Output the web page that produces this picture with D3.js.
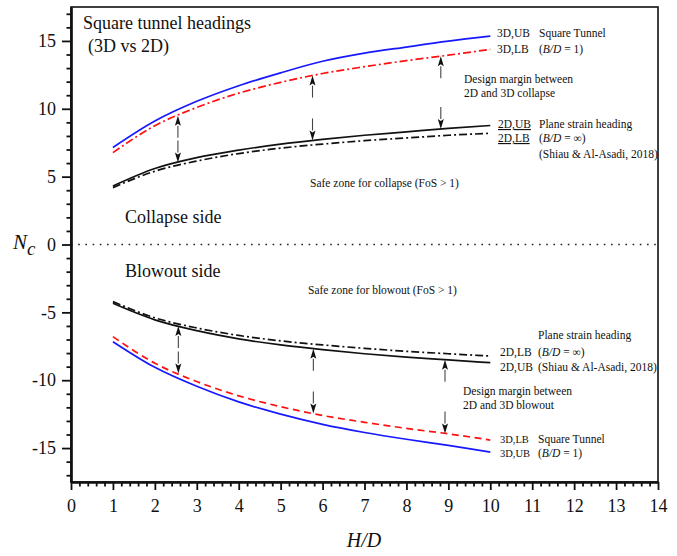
<!DOCTYPE html>
<html><head><meta charset="utf-8">
<script src="https://cdn.jsdelivr.net/npm/d3@7"></script>
<style>
body{margin:0;background:#fff;}
text{font-family:"Liberation Serif","Times New Roman",serif;fill:#111;}
</style></head>
<body><svg id="c" width="677" height="556"></svg>
<script>
// ---------- data ----------
const hd = [1,2,3,4,5,6,7,8,9,10];
const collapse3DUB = [7.15, 9.1, 10.55, 11.7, 12.65, 13.5, 14.1, 14.55, 14.98, 15.35];
const collapse3DLB = [6.77, 8.75, 10.1, 11.15, 11.95, 12.6, 13.1, 13.55, 13.95, 14.38];
const collapse2DUB = [4.31, 5.6, 6.4, 6.95, 7.4, 7.75, 8.05, 8.3, 8.55, 8.77];
const collapse2DLB = [4.19, 5.4, 6.15, 6.7, 7.1, 7.4, 7.65, 7.85, 8.05, 8.19];
const blowout2DLB = [-4.21, -5.4, -6.15, -6.7, -7.1, -7.4, -7.65, -7.87, -8.05, -8.22];
const blowout2DUB = [-4.33, -5.55, -6.35, -6.95, -7.4, -7.75, -8.05, -8.3, -8.5, -8.71];
const blowout3DLB = [-6.79, -8.75, -10.1, -11.15, -11.95, -12.6, -13.1, -13.55, -13.95, -14.41];
const blowout3DUB = [-7.16, -9.05, -10.45, -11.6, -12.5, -13.25, -13.85, -14.35, -14.8, -15.3];
const arrowXCollapse = [2.55, 5.76, 8.82];
const arrowXBlowout = [2.56, 5.78, 8.92];
const xTicks = d3.range(0, 15);
const yTicks = [-15, -10, -5, 0, 5, 10, 15];

// ---------- setup ----------
const svg = d3.select("#c");
const L = 71, R = 658, T = 7, B = 482;
const X = d3.scaleLinear([0, 14], [L, R]);
const Y = d3.scaleLinear([-17.5, 17.5], [B, T]);

// zero line
svg.append("line").attr("x1", L).attr("x2", R).attr("y1", Y(0)).attr("y2", Y(0))
  .attr("stroke", "#222").attr("stroke-width", 1.6).attr("stroke-dasharray", "1.6,5.6");

// frame
svg.append("rect").attr("x", L).attr("y", T).attr("width", R - L).attr("height", B - T)
  .attr("fill", "none").attr("stroke", "#111").attr("stroke-width", 1.6);

// axes
const xMinor = d3.range(0, 14.001, 0.2).filter(v => Math.abs(v - Math.round(v)) > 1e-6);
const yMinor = d3.range(-17, 18).filter(v => v % 5 !== 0);
function styleAxis(g){ g.selectAll("path.domain").attr("stroke","#111").attr("stroke-width",2.2);
  g.selectAll(".tick line").attr("stroke","#111").attr("stroke-width",1.8); }
svg.append("g").attr("transform", `translate(0,${B})`)
  .call(d3.axisBottom(X).tickValues(xMinor).tickSize(4.5).tickSizeOuter(0).tickFormat(""))
  .call(styleAxis);
const gx = svg.append("g").attr("transform", `translate(0,${B})`)
  .call(d3.axisBottom(X).tickValues(xTicks).tickSize(8).tickSizeOuter(0).tickFormat(d => String(d)).tickPadding(9))
  .call(styleAxis);
gx.selectAll("text").attr("font-size", 18).attr("font-family", '"Liberation Serif",serif').attr("fill", "#111");
svg.append("g").attr("transform", `translate(${L},0)`)
  .call(d3.axisLeft(Y).tickValues(yMinor).tickSize(4.5).tickSizeOuter(0).tickFormat(""))
  .call(styleAxis);
const gy = svg.append("g").attr("transform", `translate(${L},0)`)
  .call(d3.axisLeft(Y).tickValues(yTicks).tickSize(9).tickSizeOuter(0).tickFormat(d => String(d)).tickPadding(6))
  .call(styleAxis);
gy.selectAll("text").attr("font-size", 18).attr("font-family", '"Liberation Serif",serif').attr("fill", "#111");

// axis titles
svg.append("text").attr("x", 364).attr("y", 547).attr("text-anchor", "middle")
  .attr("font-size", 20).attr("font-style", "italic").text("H/D");
const nc = svg.append("text").attr("x", 13).attr("y", 249).attr("font-size", 21).attr("font-style", "italic");
nc.append("tspan").text("N");
nc.append("tspan").attr("dy", 6).attr("font-size", 19).text("c");

// ---------- curves ----------
const line = d3.line().x(d => X(d[0])).y(d => Y(d[1])).curve(d3.curveMonotoneX);
const series = [
  {v: collapse3DUB, c: "#1818ff", dash: null},
  {v: collapse3DLB, c: "#ff1010", dash: "8,3,2,3"},
  {v: collapse2DUB, c: "#111", dash: null},
  {v: collapse2DLB, c: "#111", dash: "8,3,2,3"},
  {v: blowout2DLB, c: "#111", dash: "8,3,2,3"},
  {v: blowout2DUB, c: "#111", dash: null},
  {v: blowout3DLB, c: "#ff1010", dash: "7,4.5"},
  {v: blowout3DUB, c: "#1818ff", dash: null}
];
series.forEach(s => {
  svg.append("path").datum(hd.map((x, i) => [x, s.v[i]])).attr("d", line)
    .attr("fill", "none").attr("stroke", s.c).attr("stroke-width", 1.7)
    .attr("stroke-dasharray", s.dash);
});

// ---------- arrows ----------
function valAt(arr, x){
  const i = Math.min(hd.length - 2, Math.max(0, Math.floor(x) - 1));
  const t = (x - hd[i]) / (hd[i+1] - hd[i]);
  return arr[i] + t * (arr[i+1] - arr[i]);
}
function arrow(x, tipY, dir){ // dir=-1 pointing up, +1 pointing down
  const px = X(x), len = 22, head = 10, hw = 3;
  const tail = tipY - dir * len, base = tipY - dir * head;
  svg.append("line").attr("x1", px).attr("x2", px).attr("y1", tail).attr("y2", base)
    .attr("stroke", "#444").attr("stroke-width", 1.1);
  svg.append("path").attr("d", `M${px},${tipY}L${px-hw},${base}L${px},${base+dir*2}L${px+hw},${base}Z`).attr("fill", "#111");
}
arrowXCollapse.forEach(x => {
  arrow(x, Y(valAt(collapse3DLB, x)), -1);
  arrow(x, Y(valAt(collapse2DUB, x)), 1);
});
arrowXBlowout.forEach(x => {
  arrow(x, Y(valAt(blowout2DUB, x)), -1);
  arrow(x, Y(valAt(blowout3DLB, x)), 1);
});

// ---------- text ----------
function txt(x, y, s, size, opts = {}){
  const t = svg.append("text").attr("x", x).attr("y", y).attr("font-size", size);
  if (opts.ul) t.attr("text-decoration", "underline");
  if (Array.isArray(s)) s.forEach(p => t.append("tspan").attr("font-style", p[1] ? "italic" : null).text(p[0]));
  else t.text(s);
  return t;
}
txt(83, 29, "Square tunnel headings", 18);
txt(88, 52, "(3D vs 2D)", 18);
txt(125, 223, "Collapse side", 18);
txt(125, 277, "Blowout side", 18);

const fs = 11.5;
txt(497, 37, "3D,UB", fs); txt(539, 37, "Square Tunnel", fs);
txt(497, 53, "3D,LB", fs); txt(539, 53, [["("], ["B/D", 1], [" = 1)"]], fs);
txt(464, 83, "Design margin between", fs);
txt(464, 97, "2D and 3D collapse", fs);
txt(498, 128, "2D,UB", fs, {ul: 1}); txt(539, 128, "Plane strain heading", fs);
txt(498, 142, "2D,LB", fs, {ul: 1}); txt(539, 142, [["("], ["B/D", 1], [" = ∞)"]], fs);
txt(539, 158, "(Shiau & Al-Asadi, 2018)", fs);
txt(310, 187, "Safe zone for collapse (FoS > 1)", fs);

txt(308, 294, "Safe zone for blowout (FoS > 1)", fs);
txt(538, 339, "Plane strain heading", fs);
txt(500, 356, "2D,LB", fs); txt(538, 356, [["("], ["B/D", 1], [" = ∞)"]], fs);
txt(500, 371, "2D,UB", fs); txt(538, 371, "(Shiau & Al-Asadi, 2018)", fs);
txt(463, 395, "Design margin between", fs);
txt(463, 409, "2D and 3D blowout", fs);
txt(500, 443, "3D,LB", 10.5); txt(538, 443, "Square Tunnel", fs);
txt(500, 457, "3D,UB", 10.5); txt(538, 457, [["("], ["B/D", 1], [" = 1)"]], fs);
</script></body></html>
